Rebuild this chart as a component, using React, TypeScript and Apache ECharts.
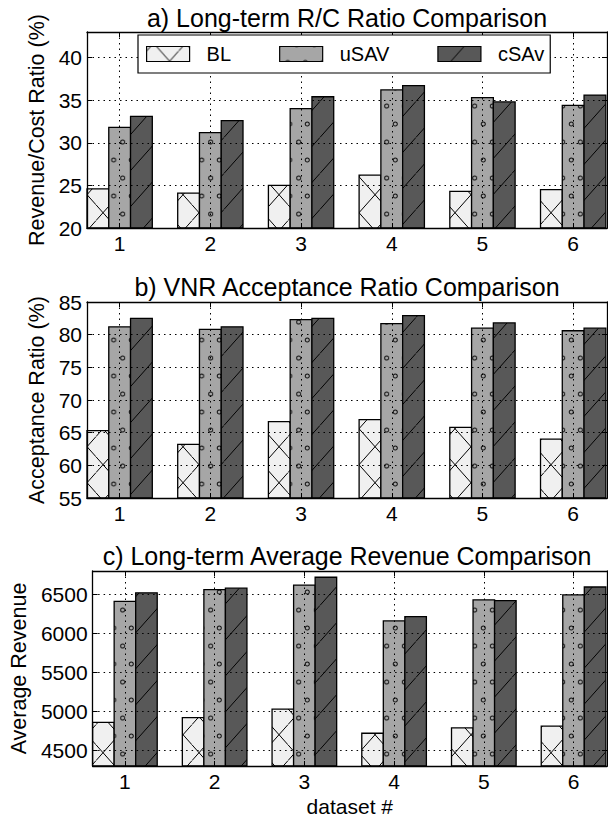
import { useEffect, useRef } from 'react';
import * as echarts from 'echarts';

// Dataset indices on the shared x axis
const DATASETS = [1, 2, 3, 4, 5, 6];
const SERIES_NAMES = ['BL', 'uSAV', 'cSAv'];

// a) Long-term revenue/cost ratio (%)
const rcBL = [24.6, 24.1, 25.0, 26.2, 24.3, 24.5];
const rcUSAV = [31.8, 31.2, 34.0, 36.2, 35.3, 34.4];
const rcCSAV = [33.1, 32.6, 35.4, 36.7, 34.8, 35.6];

// b) VNR acceptance ratio (%)
const accBL = [65.3, 63.2, 66.7, 67.0, 65.8, 64.0];
const accUSAV = [81.2, 80.8, 82.3, 81.7, 81.0, 80.6];
const accCSAV = [82.5, 81.2, 82.5, 82.9, 81.8, 81.0];

// c) Long-term average revenue
const revBL = [4860, 4920, 5030, 4720, 4790, 4810];
const revUSAV = [6410, 6560, 6620, 6160, 6430, 6495];
const revCSAV = [6520, 6580, 6720, 6215, 6420, 6595];

// Tick labels
const rcTicks = [20, 25, 30, 35, 40];
const accTicks = [55, 60, 65, 70, 75, 80, 85];
const revTicks = [4500, 5000, 5500, 6000, 6500];

const FONT = '"Liberation Sans", Arial, Helvetica, sans-serif';
const BAR_W = 0.24; // bar width in dataset units
const X_MIN = 0.64;
const X_MAX = 6.373;

const svgTile = (w: number, h: number, body: string) =>
  'data:image/svg+xml;charset=utf-8,' +
  encodeURIComponent(
    `<svg xmlns="http://www.w3.org/2000/svg" width="${w}" height="${h}" viewBox="0 0 ${w} ${h}">${body}</svg>`
  );

const HW = 32;
const HH = 36;

// "/" hatch lines: y = c - (HH/HW) x, repeated every HH
const slashLines = (c: number) => {
  let s = '';
  for (let k = -1; k <= 2; k++) {
    const y0 = c + HH * k;
    s += `<line x1="0" y1="${y0}" x2="${HW}" y2="${y0 - HH}" stroke="#000" stroke-width="1"/>`;
  }
  return s;
};
// "\" hatch lines: y = d + (HH/HW) x
const backLines = (d: number) => {
  let s = '';
  for (let k = -2; k <= 1; k++) {
    const y0 = d + HH * k;
    s += `<line x1="0" y1="${y0}" x2="${HW}" y2="${y0 + HH}" stroke="#000" stroke-width="1"/>`;
  }
  return s;
};

const CW = 17.6;
const CH = 36;
const circles = () => {
  const pts = [
    [8.1, 16],
    [-0.5, 34],
  ];
  let s = '';
  for (const [px, py] of pts) {
    for (const dx of [-CW, 0, CW]) {
      for (const dy of [-CH, 0, CH]) {
        s += `<circle cx="${px + dx}" cy="${py + dy}" r="2" fill="none" stroke="#111" stroke-width="1"/>`;
      }
    }
  }
  return s;
};

const patterns: any[] = [
  {
    image: svgTile(HW, HH, `<rect width="${HW}" height="${HH}" fill="#f0f0f0"/>` + slashLines(4.6) + backLines(24.8)),
    repeat: 'repeat',
    imageWidth: HW,
    imageHeight: HH,
  },
  {
    image: svgTile(CW, CH, `<rect width="${CW}" height="${CH}" fill="#a6a6a6"/>` + circles()),
    repeat: 'repeat',
    imageWidth: CW,
    imageHeight: CH,
  },
  {
    image: svgTile(HW, HH, `<rect width="${HW}" height="${HH}" fill="#585858"/>` + slashLines(29.4)),
    repeat: 'repeat',
    imageWidth: HW,
    imageHeight: HH,
  },
];

interface Panel {
  title: string;
  yName: string;
  min: number;
  max: number;
  ticks: number[];
  values: number[][];
  top: number;
  height: number;
  titleY: number;
  nameGap: number;
}

const panels: Panel[] = [
  {
    title: 'a) Long-term R/C Ratio Comparison',
    yName: 'Revenue/Cost Ratio (%)',
    min: 20,
    max: 43,
    ticks: rcTicks,
    values: [rcBL, rcUSAV, rcCSAV],
    top: 32,
    height: 196,
    titleY: 18,
    nameGap: 35,
  },
  {
    title: 'b) VNR Acceptance Ratio Comparison',
    yName: 'Acceptance Ratio (%)',
    min: 55,
    max: 85,
    ticks: accTicks,
    values: [accBL, accUSAV, accCSAV],
    top: 302,
    height: 196,
    titleY: 287,
    nameGap: 35,
  },
  {
    title: 'c) Long-term Average Revenue Comparison',
    yName: 'Average Revenue',
    min: 4300,
    max: 6800,
    ticks: revTicks,
    values: [revBL, revUSAV, revCSAV],
    top: 571,
    height: 195,
    titleY: 556,
    nameGap: 58,
  },
];

const AXIS_LINE = { show: true, onZero: false, lineStyle: { color: '#000', width: 1.3 } };
const GRID_LINE = { show: true, lineStyle: { color: '#000', width: 1, type: [1.5, 4] } };
const TICK_STYLE = { color: '#000', width: 1 };
const plainNumber = (v: number) => String(v);

function buildOption() {
  const grid: any[] = [];
  const xAxis: any[] = [];
  const yAxis: any[] = [];
  const series: any[] = [];
  const graphic: any[] = [];

  panels.forEach((p, g) => {
    grid.push({ left: 87, width: 520, top: p.top, height: p.height });
    const last = g === panels.length - 1;
    xAxis.push({
      type: 'value',
      gridIndex: g,
      position: 'bottom',
      min: X_MIN,
      max: X_MAX,
      z: 3,
      name: last ? 'dataset #' : '',
      nameLocation: 'middle',
      nameGap: 30,
      nameTextStyle: { fontSize: 21, color: '#000', fontFamily: FONT },
      axisLine: AXIS_LINE,
      axisTick: { show: true, inside: true, length: 5, customValues: DATASETS, lineStyle: TICK_STYLE },
      axisLabel: { customValues: DATASETS, fontSize: 21, color: '#000', margin: 5, fontFamily: FONT, formatter: plainNumber },
      splitLine: GRID_LINE,
    });
    xAxis.push({
      type: 'value',
      gridIndex: g,
      position: 'top',
      min: X_MIN,
      max: X_MAX,
      z: 3,
      axisLine: AXIS_LINE,
      axisTick: { show: true, inside: true, length: 5, customValues: DATASETS, lineStyle: TICK_STYLE },
      axisLabel: { show: false },
      splitLine: { show: false },
    });
    yAxis.push({
      type: 'value',
      gridIndex: g,
      position: 'left',
      min: p.min,
      max: p.max,
      z: 3,
      name: p.yName,
      nameLocation: 'middle',
      nameGap: p.nameGap,
      nameTextStyle: { fontSize: 21.5, color: '#000', fontFamily: FONT },
      axisLine: AXIS_LINE,
      axisTick: { show: true, inside: true, length: 5, customValues: p.ticks, lineStyle: TICK_STYLE },
      axisLabel: { customValues: p.ticks, fontSize: 21, color: '#000', margin: 5, fontFamily: FONT, formatter: plainNumber },
      splitLine: GRID_LINE,
    });
    yAxis.push({
      type: 'value',
      gridIndex: g,
      position: 'right',
      min: p.min,
      max: p.max,
      z: 3,
      axisLine: AXIS_LINE,
      axisTick: { show: true, inside: true, length: 5, customValues: p.ticks, lineStyle: TICK_STYLE },
      axisLabel: { show: false },
      splitLine: { show: false },
    });

    SERIES_NAMES.forEach((name, slot) => {
      const base = p.min;
      series.push({
        type: 'custom',
        name,
        xAxisIndex: g * 2,
        yAxisIndex: g * 2,
        z: 2,
        itemStyle: { color: patterns[slot], borderColor: '#000', borderWidth: 1.3 },
        encode: { x: 0, y: 1 },
        data: p.values[slot].map((v, i) => [DATASETS[i], v]),
        renderItem: (_params: any, api: any) => {
          const x = api.value(0) + (slot - 1.5) * BAR_W;
          const topLeft = api.coord([x, api.value(1)]);
          const bottomRight = api.coord([x + BAR_W, base]);
          return {
            type: 'rect',
            shape: {
              x: topLeft[0],
              y: topLeft[1],
              width: bottomRight[0] - topLeft[0],
              height: bottomRight[1] - topLeft[1],
            },
            style: { fill: patterns[slot], stroke: '#000', lineWidth: 1.3 },
          };
        },
      });
    });

    graphic.push({
      type: 'text',
      x: 347,
      y: p.titleY,
      style: {
        text: p.title,
        fontSize: 25,
        fontFamily: FONT,
        fill: '#000',
        align: 'center',
        verticalAlign: 'middle',
      },
    });
  });

  return {
    animation: false,
    backgroundColor: '#fff',
    textStyle: { fontFamily: FONT },
    grid,
    xAxis,
    yAxis,
    series,
    graphic,
    legend: {
      data: SERIES_NAMES,
      left: 138,
      top: 35,
      orient: 'horizontal',
      icon: 'rect',
      itemWidth: 43,
      itemHeight: 15,
      itemGap: 48,
      padding: [9, 6, 9, 8],
      backgroundColor: '#fff',
      borderColor: '#000',
      borderWidth: 1.2,
      selectedMode: false,
      z: 10,
      itemStyle: { borderColor: '#000', borderWidth: 1.2 },
      textStyle: { fontSize: 20, color: '#000', fontFamily: FONT, padding: [0, 0, 0, 12] },
    },
  };
}

export default function App() {
  const ref = useRef<HTMLDivElement>(null);
  useEffect(() => {
    if (!ref.current) return;
    const chart = echarts.init(ref.current, undefined, { renderer: 'svg' });
    chart.setOption(buildOption() as any);
    return () => chart.dispose();
  }, []);
  return (
    <div
      ref={ref}
      style={{ position: 'absolute', left: 0, top: 0, width: 608, height: 820, background: '#fff' }}
    />
  );
}
